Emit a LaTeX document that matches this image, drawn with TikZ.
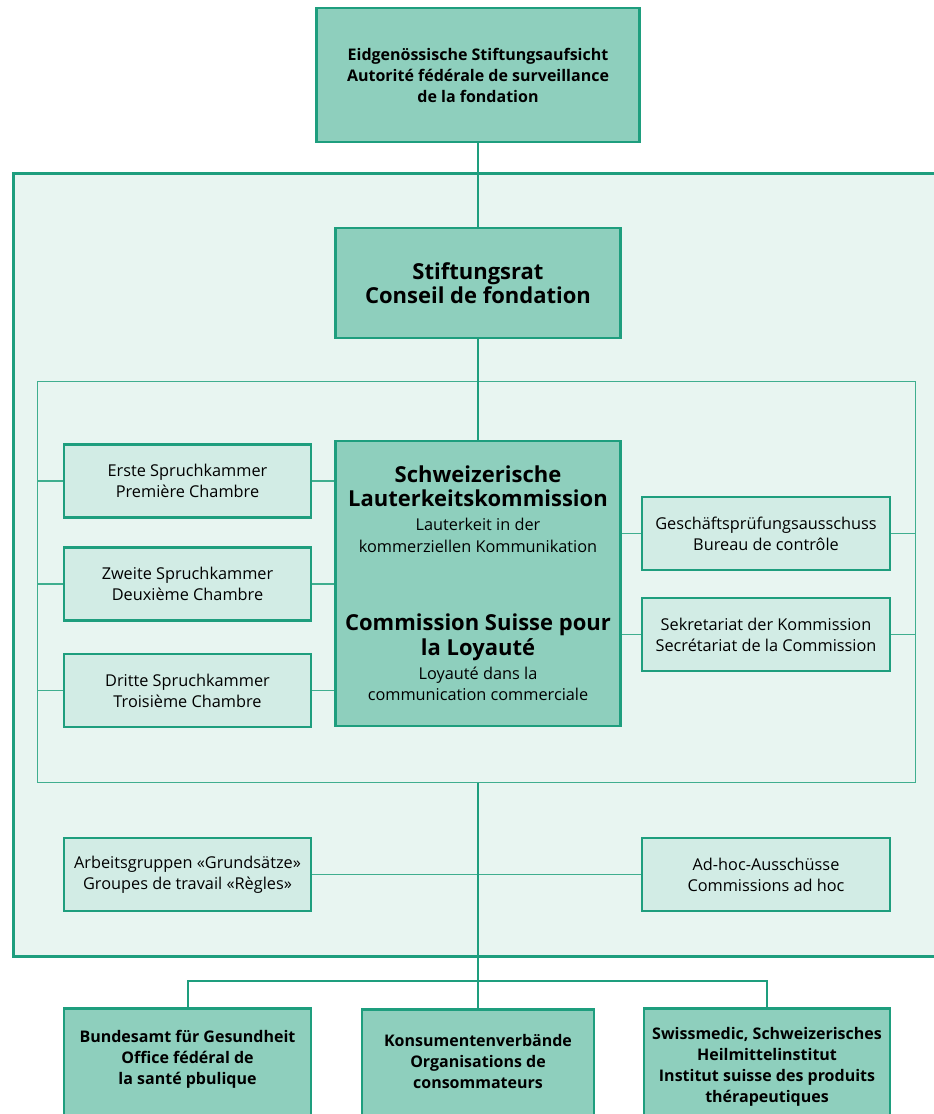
\documentclass[tikz,border=0pt]{standalone}
\usepackage{fontspec}
\setmainfont{Open Sans}
\definecolor{dkfill}{HTML}{8ECFBD}
\definecolor{ltfill}{HTML}{D2ECE5}
\definecolor{panelfill}{HTML}{E8F5F1}
\definecolor{edge}{HTML}{1E9E7E}
\definecolor{thin}{HTML}{3FAE8F}
\newcommand\bigbf{\fontsize{22}{24}\selectfont\bfseries}
\newcommand\smrg{\fontsize{16.3}{21}\selectfont}
\newcommand\smbf{\fontsize{16}{21}\selectfont\bfseries}
\tikzset{
  darkbox/.style={draw=edge, line width=2.6pt, fill=dkfill, align=center, inner sep=0pt, text=black},
  lightbox/.style={draw=edge, line width=2.4pt, fill=ltfill, align=center, inner sep=0pt, text=black, minimum width=247pt, minimum height=73pt, font=\smrg},
  boxtext/.style={font=\smbf, align=center, anchor=north, inner sep=0pt, text=black},
  mainline/.style={draw=edge, line width=2pt},
  thinline/.style={draw=thin, line width=1.4pt},
}
\begin{document}
\begin{tikzpicture}[x=1pt,y=-1pt]
\useasboundingbox (0,0) rectangle (934,1114);
\clip (0,0) rectangle (934,1114);
% outer panel
\node[draw=edge, line width=2.6pt, fill=panelfill, minimum width=935pt, minimum height=783pt, inner sep=0pt, anchor=north west] (panel) at (12,172) {};
% inner frame
\node[draw=thin, line width=1.3pt, minimum width=878pt, minimum height=401pt, inner sep=0pt, anchor=north west] (inner) at (37,381) {};
% top
\node[darkbox, minimum width=323pt, minimum height=134pt, font=\smbf] (aufsicht) at (478,75)
  {Eidgenössische Stiftungsaufsicht\\Autorité fédérale de surveillance\\de la fondation};
\node[darkbox, minimum width=285pt, minimum height=110pt, font=\bigbf] (rat) at (478,283)
  {Stiftungsrat\\Conseil de fondation};
\node[darkbox, minimum width=285pt, minimum height=285pt, font=\fontsize{16.3}{21.5}\selectfont] (skl) at (478,583.5)
  {\bigbf Schweizerische\\[2.5pt]
   \bigbf Lauterkeitskommission\\[2.5pt]
   Lauterkeit in der\\
   kommerziellen Kommunikation\\[56.5pt]
   \bigbf Commission Suisse pour\\[2.5pt]
   \bigbf la Loyauté\\[2pt]
   Loyauté dans la\\
   communication commerciale};
% left boxes
\node[lightbox] (k1) at (187.5,481) {Erste Spruchkammer\\Première Chambre};
\node[lightbox] (k2) at (187.5,584) {Zweite Spruchkammer\\Deuxième Chambre};
\node[lightbox] (k3) at (187.5,690.5) {Dritte Spruchkammer\\Troisième Chambre};
% right boxes
\node[lightbox, minimum width=248pt] (gpa) at (766,533.5) {Geschäftsprüfungsausschuss\\Bureau de contrôle};
\node[lightbox, minimum width=248pt] (sek) at (766,634.5) {Sekretariat der Kommission\\Secrétariat de la Commission};
% working groups
\node[lightbox] (ag) at (187.5,874.5) {Arbeitsgruppen «Grundsätze»\\Groupes de travail «Règles»};
\node[lightbox, minimum width=248pt] (adhoc) at (766,874.5) {Ad-hoc-Ausschüsse\\Commissions ad hoc};
% bottom boxes
\node[darkbox, minimum width=247pt, minimum height=140pt, anchor=north] (bag) at (187.5,1007) {};
\node[darkbox, minimum width=232pt, minimum height=140pt, anchor=north] (kv) at (478,1008) {};
\node[darkbox, minimum width=246pt, minimum height=140pt, anchor=north] (sm) at (767,1007) {};
\node[boxtext] (bagt) at (187.5,1030) {Bundesamt für Gesundheit\\Office fédéral de\\la santé pbulique};
\node[boxtext] (kvt) at (478,1034) {Konsumentenverbände\\Organisations de\\consommateurs};
\node[boxtext] (smt) at (767,1027) {Swissmedic, Schweizerisches\\Heilmittelinstitut\\Institut suisse des produits\\thérapeutiques};
% connectors
\draw[mainline] (aufsicht.south) -- (rat.north);
\draw[mainline] (rat.south) -- (skl.north);
\foreach \n in {k1,k2,k3}{
  \draw[thinline] (\n.west) -- (\n.west -| inner.west);
  \draw[thinline] (\n.east) -- (\n.east -| skl.west);
}
\foreach \n in {gpa,sek}{
  \draw[thinline] (\n.east) -- (\n.east -| inner.east);
  \draw[thinline] (\n.west) -- (\n.west -| skl.east);
}
\draw[thinline] (ag.east) -- (adhoc.west);
\coordinate (bus) at (478,981);
\draw[mainline] (inner.south -| skl.south) -- (kv.north);
\draw[mainline] (bag.north) |- (bus) -| (sm.north);
\end{tikzpicture}
\end{document}
